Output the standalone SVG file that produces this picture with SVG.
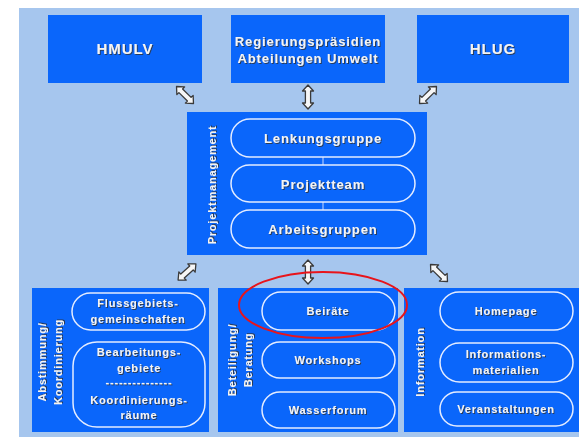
<svg xmlns="http://www.w3.org/2000/svg" width="579" height="437" viewBox="0 0 579 437">
<defs>
<style>
.bg{fill:#a6c6ee}
.box{fill:#0a66fb}
.pill{fill:none;stroke:#e4ecff;stroke-width:1.5}
.t{font-family:"Liberation Sans",Arial,sans-serif;font-weight:bold;fill:#f4f4f4;text-anchor:middle;filter:url(#sh)}
.t15{font-size:15px;letter-spacing:1px}
.t13{font-size:13px;letter-spacing:0.9px}
.t11{font-size:11px;letter-spacing:0.8px}
.arr{fill:#f6f6f6;stroke:#3a3a3a;stroke-width:1.3;stroke-linejoin:round}
.lnk{stroke:#c8d8ff;stroke-width:1}
</style>
<filter id="sh" x="-10%" y="-30%" width="120%" height="160%">
<feDropShadow dx="1" dy="1" stdDeviation="0.6" flood-color="#303030" flood-opacity="0.8"/>
</filter>
<path id="da" d="M-12,0 L-6,-5.5 L-6,-2.6 L6,-2.6 L6,-5.5 L12,0 L6,5.5 L6,2.6 L-6,2.6 L-6,5.5 Z"/>
</defs>
<rect class="bg" x="19" y="8" width="560" height="429"/>

<g id="hmulv">
<rect class="box" x="48" y="15" width="154" height="68"/>
<text class="t t15" x="125" y="54">HMULV</text>
</g>
<g id="regierung">
<rect class="box" x="231" y="15" width="154" height="68"/>
<text class="t t13" x="308" y="46">Regierungspräsidien</text>
<text class="t t13" x="308" y="63">Abteilungen Umwelt</text>
</g>
<g id="hlug">
<rect class="box" x="417" y="15" width="152" height="68"/>
<text class="t t15" x="493" y="54">HLUG</text>
</g>

<g id="projektmanagement">
<rect class="box" x="187" y="112" width="240" height="143"/>
<text class="t t11" transform="translate(216,185) rotate(-90)">Projektmanagement</text>
<line class="lnk" x1="323" y1="157" x2="323" y2="165"/>
<line class="lnk" x1="323" y1="202" x2="323" y2="210"/>
<g id="lenkungsgruppe">
<rect class="pill" x="231" y="119" width="184" height="38" rx="19"/>
<text class="t t13" x="323" y="143">Lenkungsgruppe</text>
</g>
<g id="projektteam">
<rect class="pill" x="231" y="165" width="184" height="37" rx="18.5"/>
<text class="t t13" x="323" y="189">Projektteam</text>
</g>
<g id="arbeitsgruppen">
<rect class="pill" x="231" y="210" width="184" height="38" rx="19"/>
<text class="t t13" x="323" y="234">Arbeitsgruppen</text>
</g>
</g>

<g id="abstimmung">
<rect class="box" x="32" y="288" width="177" height="144"/>
<text class="t t11" transform="translate(46,362) rotate(-90)">Abstimmung/</text>
<text class="t t11" transform="translate(62,362) rotate(-90)">Koordinierung</text>
<g id="flussgebiete">
<rect class="pill" x="72" y="293" width="133" height="37" rx="18.5"/>
<text class="t t11" x="138" y="307">Flussgebiets-</text>
<text class="t t11" x="138" y="323">gemeinschaften</text>
</g>
<g id="bearbeitungsgebiete">
<rect class="pill" x="73" y="342" width="132" height="85" rx="24"/>
<text class="t t11" x="139" y="356">Bearbeitungs-</text>
<text class="t t11" x="139" y="372">gebiete</text>
<text class="t t11" x="139" y="386">---------------</text>
<text class="t t11" x="139" y="404">Koordinierungs-</text>
<text class="t t11" x="139" y="419">räume</text>
</g>
</g>

<g id="beteiligung">
<rect class="box" x="218" y="288" width="180" height="144"/>
<text class="t t11" transform="translate(236,360) rotate(-90)">Beteiligung/</text>
<text class="t t11" transform="translate(252,360) rotate(-90)">Beratung</text>
<g id="beiraete">
<rect class="pill" x="262" y="292" width="133" height="38" rx="19"/>
<text class="t t11" x="328" y="315">Beiräte</text>
</g>
<g id="workshops">
<rect class="pill" x="262" y="342" width="133" height="36" rx="18"/>
<text class="t t11" x="328" y="364">Workshops</text>
</g>
<g id="wasserforum">
<rect class="pill" x="262" y="392" width="133" height="36" rx="18"/>
<text class="t t11" x="328" y="414">Wasserforum</text>
</g>
</g>

<g id="information">
<rect class="box" x="404" y="288" width="175" height="144"/>
<text class="t t11" transform="translate(424,362) rotate(-90)">Information</text>
<g id="homepage">
<rect class="pill" x="440" y="292" width="133" height="38" rx="19"/>
<text class="t t11" x="506" y="315">Homepage</text>
</g>
<g id="informationsmaterialien">
<rect class="pill" x="440" y="343" width="133" height="39" rx="19.5"/>
<text class="t t11" x="506" y="358">Informations-</text>
<text class="t t11" x="506" y="374">materialien</text>
</g>
<g id="veranstaltungen">
<rect class="pill" x="440" y="392" width="133" height="34" rx="17"/>
<text class="t t11" x="506" y="413">Veranstaltungen</text>
</g>
</g>

<g id="connectors">
<use class="arr" href="#da" transform="translate(185,95) rotate(45)"/>
<use class="arr" href="#da" transform="translate(308,97) rotate(90)"/>
<use class="arr" href="#da" transform="translate(428,95) rotate(-45)"/>
<use class="arr" href="#da" transform="translate(187,272) rotate(-42)"/>
<use class="arr" href="#da" transform="translate(308,272) rotate(90)"/>
<use class="arr" href="#da" transform="translate(439,273) rotate(45)"/>
</g>

<ellipse cx="323" cy="305" rx="84" ry="33" fill="none" stroke="#e8141b" stroke-width="2"/>
</svg>
